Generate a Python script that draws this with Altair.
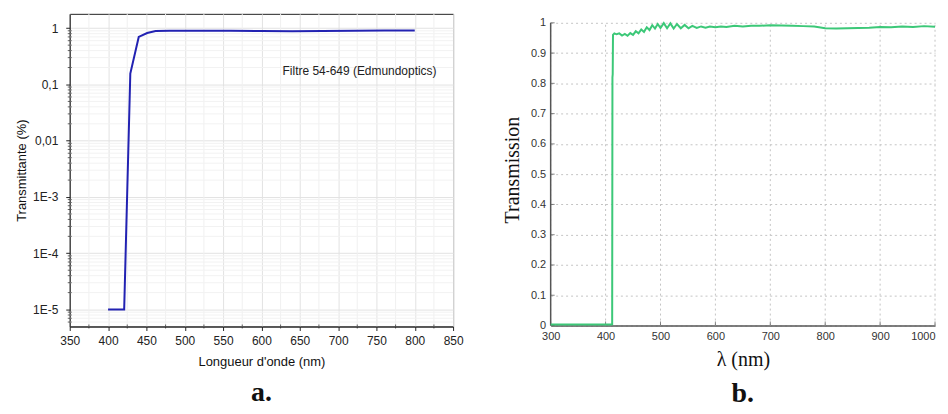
import altair as alt
import pandas as pd

# ---------------- Panel a data ----------------
wl_a = [400, 421, 429, 440, 451, 462, 480, 520, 560, 600, 640, 680, 720, 760, 800]
tr_a = [1e-5, 1e-5, 0.156, 0.70, 0.82, 0.89, 0.90, 0.90, 0.90, 0.89, 0.885, 0.895, 0.905, 0.91, 0.91]
xa_ticks = list(range(350, 851, 50))
xa_minor = list(range(375, 851, 50))
ya_ticks = [1e-5, 1e-4, 1e-3, 1e-2, 1e-1, 1]
ya_labels = ["1E-5", "1E-4", "1E-3", "0,01", "0,1", "1"]
ya_minor = [m * 10.0 ** k for k in range(-6, 0) for m in range(2, 10) if m * 10.0 ** k >= 5e-6]
note_a = ["Filtre 54-649 (Edmundoptics)"]
note_a_x = [728]
note_a_y = [0.17]

# ---------------- Panel b data ----------------
wl_b = [300, 350, 400, 411, 412, 412.5, 413, 413.5, 416, 420, 425, 430, 435, 440, 445, 450, 455, 460,
        465, 470, 475, 480, 485, 490, 495, 500, 506, 512, 518, 524, 530, 537, 544, 551, 558, 566,
        574, 582, 590, 600, 610, 620, 635, 650, 665, 680, 700, 720, 740, 760, 780, 800, 820, 840,
        860, 880, 900, 920, 940, 960, 980, 1000]
tr_b = [0.003, 0.003, 0.003, 0.003, 0.004, 0.82, 0.83, 0.96, 0.965, 0.962, 0.965, 0.958, 0.963, 0.957,
        0.966, 0.96, 0.972, 0.965, 0.978, 0.97, 0.985, 0.976, 0.992, 0.981, 0.996, 0.983, 0.999, 0.982,
        0.998, 0.981, 0.996, 0.982, 0.993, 0.982, 0.99, 0.983, 0.988, 0.984, 0.988, 0.985, 0.988, 0.986,
        0.99, 0.988, 0.99, 0.99, 0.992, 0.991, 0.99, 0.989, 0.988, 0.982, 0.981, 0.982, 0.983, 0.984,
        0.986, 0.985, 0.988, 0.986, 0.989, 0.987]
xb_ticks = list(range(300, 1001, 100))
yb_ticks = [round(i * 0.1, 1) for i in range(11)]
yb_range = [0, 1]

SANS = "Liberation Sans"
SERIF = "Liberation Serif"

# label expression for log axis
expr = f"'{ya_labels[0]}'"
for v, l in zip(ya_ticks[1:], ya_labels[1:]):
    expr = f"datum.value > {v * 0.5} ? '{l}' : ({expr})"

WA, HA = 385, 314
WB, HB = 386, 313
YB_TOP = 313 / 304  # headroom above 1 so that panel b starts lower than panel a

# ---------------- Panel a ----------------
xsa = alt.Scale(domain=[350, 850], nice=False)
ysa = alt.Scale(type="log", domain=[5e-6, 1.8], nice=False)
ax_xa = alt.Axis(
    values=xa_ticks, format="d", title="Longueur d'onde (nm)", titleFont=SANS, titleFontSize=13,
    titleFontWeight="normal", titleColor="#111", titlePadding=9,
    labelFont=SANS, labelFontSize=12, labelColor="#222", labelPadding=5,
    tickSize=4, tickColor="#222", domainColor="#222", labelOverlap=False,
    grid=True, gridColor="#e2e2e2", labelFlush=False)
ax_ya = alt.Axis(
    values=ya_ticks, labelExpr=expr, title="Transmittante (%)", titleFont=SANS,
    titleFontSize=13, titleFontWeight="normal", titleColor="#111", titlePadding=4,
    labelFont=SANS, labelFontSize=12, labelColor="#222", labelPadding=8,
    tickSize=4, tickColor="#222", domainColor="#222", labelOverlap=False,
    grid=True, gridColor="#e2e2e2")


def XA(f):
    return alt.X(f, type="quantitative", scale=xsa, axis=ax_xa)


def YA(f):
    return alt.Y(f, type="quantitative", scale=ysa, axis=ax_ya)


line_a = alt.Chart(pd.DataFrame({"wl": wl_a, "T": tr_a})).mark_line(
    color="#2222b2", strokeWidth=2).encode(x=XA("wl"), y=YA("T"))
minor_x_a = alt.Chart(pd.DataFrame({"wl": xa_minor})).mark_rule(color="#f0f0f0").encode(x=XA("wl"))
minor_y_a = alt.Chart(pd.DataFrame({"T": ya_minor})).mark_rule(color="#f2f2f2").encode(y=YA("T"))
minor_ytick_a = alt.Chart(pd.DataFrame({"T": ya_minor})).mark_tick(
    orient="horizontal", color="#222", size=4, thickness=1).encode(y=YA("T"), x=alt.value(0))
minor_xtick_a = alt.Chart(pd.DataFrame({"wl": xa_minor})).mark_tick(
    orient="vertical", color="#222", size=4, thickness=1).encode(x=XA("wl"), y=alt.value(HA))
text_a = alt.Chart(pd.DataFrame({"wl": note_a_x, "T": note_a_y, "t": note_a})).mark_text(
    font=SANS, fontSize=12, color="#222", align="center", baseline="middle").encode(
    x=XA("wl"), y=YA("T"), text="t:N")

panel_a = alt.layer(minor_x_a, minor_y_a, minor_ytick_a, minor_xtick_a, text_a, line_a).properties(
    width=WA, height=HA,
    view=alt.ViewBackground(stroke="#222"),
    title=alt.TitleParams("a.", orient="bottom", font=SERIF, fontSize=28, fontWeight="bold",
                          color="#111", offset=11, anchor="middle"),
)

# ---------------- Panel b ----------------
xsb = alt.Scale(domain=[300, 1000], nice=False)
ysb = alt.Scale(domain=[0, YB_TOP], nice=False)
yexpr = "datum.value == 0 ? '0' : (datum.value == 1 ? '1' : format(datum.value, '.1f'))"
ax_xb = alt.Axis(
    values=xb_ticks, format="d", title="λ (nm)", titleFont=SERIF, titleFontSize=20,
    titleFontWeight="normal", titleColor="#111", titlePadding=8,
    labelFont=SANS, labelFontSize=11, labelColor="#333", labelPadding=5,
    labelAlign=alt.condition("datum.value == 1000", alt.value("right"), alt.value("center")),
    tickSize=0, domainColor="#555", domainWidth=1.5, labelOverlap=False,
    grid=False, labelFlush=False)
ax_yb = alt.Axis(
    values=yb_ticks, labelExpr=yexpr, title="Transmission", titleFont=SERIF,
    titleFontSize=20, titleFontWeight="normal", titleColor="#111", titlePadding=8,
    labelFont=SANS, labelFontSize=11, labelColor="#333", labelPadding=5,
    tickSize=0, domain=False, labelOverlap=False,
    grid=True, gridColor="#c4c4c4", gridDash=[2, 3])


def XB(f):
    return alt.X(f, type="quantitative", scale=xsb, axis=ax_xb)


def YB(f):
    return alt.Y(f, type="quantitative", scale=ysb, axis=ax_yb)


line_b = alt.Chart(pd.DataFrame({"wl": wl_b, "T": tr_b})).mark_line(
    color="#3cc878", strokeWidth=2).encode(x=XB("wl"), y=YB("T"))
grid_x_b = alt.Chart(pd.DataFrame({"wl": xb_ticks, "y0": [yb_range[0]] * len(xb_ticks),
                                   "y1": [yb_range[1]] * len(xb_ticks)})).mark_rule(
    color="#c4c4c4", strokeDash=[2, 3]).encode(x=XB("wl"), y=YB("y0"), y2="y1:Q")
yaxis_line_b = alt.Chart(pd.DataFrame({"y0": [yb_range[0]], "y1": [yb_range[1]]})).mark_rule(
    color="#555", strokeWidth=1.5).encode(x=alt.value(0), y=YB("y0"), y2="y1:Q")
xtick_b = alt.Chart(pd.DataFrame({"wl": xb_ticks})).mark_tick(
    orient="vertical", color="#555", size=4, thickness=1).encode(x=XB("wl"), y=alt.value(HB - 2))
ytick_b = alt.Chart(pd.DataFrame({"T": yb_ticks})).mark_tick(
    orient="horizontal", color="#555", size=4, thickness=1).encode(y=YB("T"), x=alt.value(2))

panel_b = alt.layer(grid_x_b, yaxis_line_b, xtick_b, ytick_b, line_b).properties(
    width=WB, height=HB,
    view=alt.ViewBackground(stroke="transparent"),
    title=alt.TitleParams("b.", orient="bottom", font=SERIF, fontSize=28, fontWeight="bold",
                          color="#111", offset=11, anchor="middle"),
)

chart = alt.hconcat(panel_a, panel_b, spacing=38).properties(
    padding={"left": 7, "top": 4, "right": 0, "bottom": 0},
    background="white",
)

chart.save("out.html", embed_options={"renderer": "svg", "actions": False})
